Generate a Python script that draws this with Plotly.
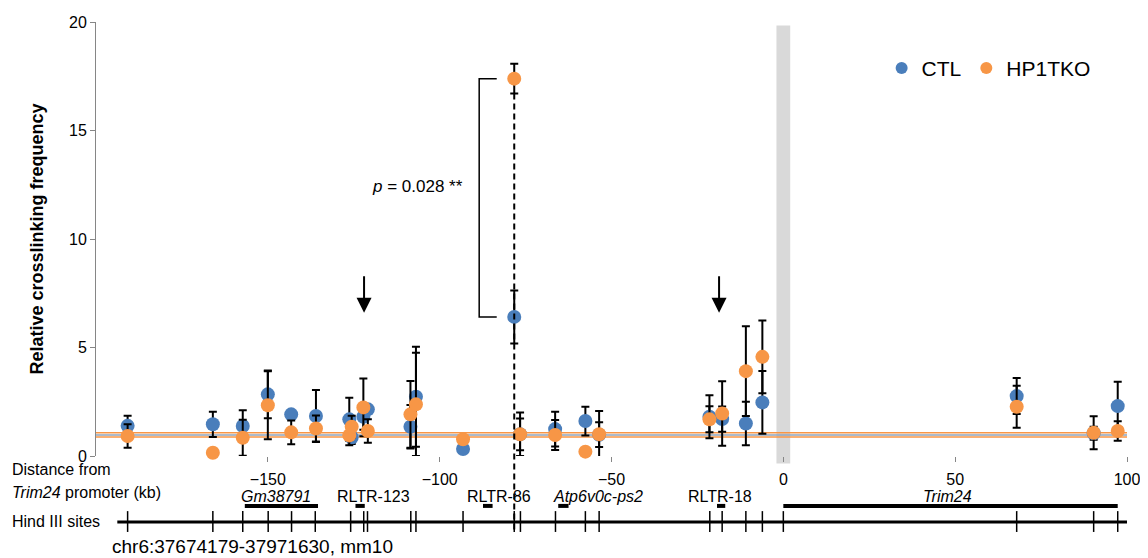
# import required libraries
import plotly.graph_objects as go

# fragment positions, distance from Trim24 promoter (kb)
pos_kb = [-190.8, -166.0, -157.3, -150.0, -143.2, -136.0, -126.3, -125.6, -122.2, -120.9,
          -108.5, -106.9, -93.2, -78.3, -76.6, -66.4, -57.6, -53.6, -21.5, -17.8,
          -10.9, -6.1, 67.9, 90.3, 97.3]

# relative crosslinking frequency, CTL
ctl = [1.39, 1.46, 1.38, 2.84, 1.92, 1.84, 1.69, 0.85, 1.81, 2.15,
       1.35, 2.73, 0.32, 6.41, 1.00, 1.24, 1.61, 0.98, 1.81, 1.70,
       1.50, 2.47, 2.76, 1.05, 2.30]
ctl_err = [0.46, 0.58, 0.73, 1.10, 0.10, 1.20, 0.99, 0.30, 0.60, 0.20,
           1.00, 2.30, 0.00, 1.22, 0.73, 0.80, 0.66, 0.57, 0.99, 0.58,
           1.00, 1.45, 0.83, 0.30, 1.12]

# relative crosslinking frequency, HP1TKO
ko = [0.92, 0.15, 0.84, 2.34, 1.09, 1.27, 0.95, 1.35, 2.24, 1.15,
      1.92, 2.38, 0.77, 17.39, 1.00, 0.97, 0.20, 1.00, 1.69, 1.96,
      3.91, 4.57, 2.27, 1.07, 1.15]
ko_err = [0.54, 0.00, 0.83, 1.57, 0.55, 0.60, 0.45, 0.50, 1.33, 0.54,
          1.54, 2.38, 0.00, 0.69, 1.00, 0.69, 0.00, 1.07, 0.60, 1.49,
          2.07, 1.68, 0.97, 0.76, 0.45]

# background levels
ctl_base = [0.97]
ko_base = [1.07, 0.88]

# Hind III sites (kb)
hind3 = [-190.8, -166.0, -157.3, -149.9, -143.1, -136.2, -125.9, -122.1, -121.0,
         -108.4, -106.9, -93.2, -78.3, -76.5, -66.3, -57.6, -53.6, -21.4, -17.8,
         -10.9, -6.1, 0.0, 67.9, 90.3, 97.3]

# genes / repeats under the axis
gene_names = ["Gm38791", "RLTR-123", "RLTR-86", "Atp6v0c-ps2", "RLTR-18", "Trim24"]
gene_start = [-156.7, -124.5, -87.4, -65.5, -19.3, 0.0]
gene_end = [-135.4, -121.8, -84.6, -62.5, -16.9, 97.3]
gene_label = [-147.7, -119.2, -82.8, -54.0, -18.5, 47.7]
gene_italic = [True, False, False, True, False, True]

# viewpoint and arrows
viewpoint = [-2, 2]
arrows_kb = [-122.0, -18.7]
x_range = [-200, 100]
y_range = [0, 20]
x_ticks = [-150, -100, -50, 0, 50, 100]
y_ticks = [0, 5, 10, 15, 20]

BLUE = '#4a7ebb'
ORANGE = '#f79646'
FONT = 'Arial, Liberation Sans, sans-serif'


def paper_y(val):
    return (val - y_range[0]) / (y_range[1] - y_range[0])


fig = go.Figure()

# background lines
for b in ko_base:
    fig.add_trace(go.Scatter(x=x_range, y=[b, b], mode='lines', showlegend=False,
                             line=dict(color=ORANGE, width=1.5), hoverinfo='skip'))
for b in ctl_base:
    fig.add_trace(go.Scatter(x=x_range, y=[b, b], mode='lines', showlegend=False,
                             line=dict(color='#8ea3bb', width=1.5), hoverinfo='skip'))

# data points
fig.add_trace(go.Scatter(
    x=pos_kb, y=ctl, mode='markers', name='CTL', cliponaxis=False,
    marker=dict(color=BLUE, size=14),
    error_y=dict(type='data', array=ctl_err, color='black', thickness=2, width=4)
))
fig.add_trace(go.Scatter(
    x=pos_kb, y=ko, mode='markers', name='HP1TKO', cliponaxis=False,
    marker=dict(color=ORANGE, size=14),
    error_y=dict(type='data', array=ko_err, color='black', thickness=2, width=4)
))

shapes = []

# grey band at the viewpoint
shapes.append(dict(type='rect', xref='x', yref='paper', x0=viewpoint[0], x1=viewpoint[1],
                   y0=-0.017, y1=0.992, fillcolor='#d9d9d9', line=dict(width=0), layer='below'))

# dashed line through the peak
i_peak = ko.index(max(ko))
shapes.append(dict(type='line', xref='x', yref='paper', x0=pos_kb[i_peak], x1=pos_kb[i_peak],
                   y0=paper_y(ko[i_peak] - ko_err[i_peak]), y1=-0.174,
                   line=dict(color='black', width=2, dash='6px,4px')))

# bracket for p value
bx = pos_kb[i_peak] - 10.2
shapes.append(dict(type='path', xref='x', yref='y',
                   path='M {0},{1} L {2},{1} L {2},{3} L {0},{3}'.format(
                       pos_kb[i_peak] - 5.1, ko[i_peak], bx, ctl[i_peak]),
                   line=dict(color='black', width=1.5)))

# Hind III line and sites
shapes.append(dict(type='line', xref='x', yref='paper', x0=-193.8, x1=x_range[1],
                   y0=-0.152, y1=-0.152, line=dict(color='black', width=3)))
for s in hind3:
    shapes.append(dict(type='line', xref='x', yref='paper', x0=s, x1=s,
                       y0=-0.127, y1=-0.175, line=dict(color='black', width=1.5)))

# gene bars
for g0, g1 in zip(gene_start, gene_end):
    shapes.append(dict(type='line', xref='x', yref='paper', x0=g0, x1=g1,
                       y0=-0.115, y1=-0.115, line=dict(color='black', width=4)))

annotations = []

# p value
annotations.append(dict(x=bx - 4, y=12.4, xref='x', yref='y', xanchor='right', yanchor='middle',
                        showarrow=False, text='<i>p</i> = 0.028 **',
                        font=dict(size=17, color='black', family=FONT)))

# arrows
for a in arrows_kb:
    annotations.append(dict(x=a, y=6.6, ax=a, ay=8.35, xref='x', yref='y', axref='x', ayref='y',
                            text='', showarrow=True, arrowhead=2, arrowsize=1.5,
                            arrowwidth=2, arrowcolor='black'))

# gene labels
for name, gx, it in zip(gene_names, gene_label, gene_italic):
    annotations.append(dict(x=gx, y=-0.094, xref='x', yref='paper', yanchor='middle', showarrow=False,
                            text='<i>' + name + '</i>' if it else name,
                            font=dict(size=16, color='black', family=FONT)))

# labels on the left
left_labels = ['Distance from', '<i>Trim24</i> promoter (kb)', 'Hind III sites']
left_y = [-0.032, -0.083, -0.152]
for txt, ly in zip(left_labels, left_y):
    annotations.append(dict(x=-0.083, y=ly, xref='paper', yref='paper', xanchor='left', yanchor='middle',
                            showarrow=False, text=txt, font=dict(size=16, color='black', family=FONT)))
annotations.append(dict(x=0.014, y=-0.209, xref='paper', yref='paper', xanchor='left', yanchor='middle',
                        showarrow=False, text='chr6:37674179-37971630, mm10',
                        font=dict(size=19, color='black', family=FONT)))

# the page puts the figure 8px in from the top-left corner
fig.update_layout(
    width=1140, height=550,
    margin=dict(l=88, r=21, t=14, b=102),
    plot_bgcolor='white', paper_bgcolor='white',
    font=dict(family=FONT, size=16, color='black'),
    shapes=shapes, annotations=annotations,
    legend=dict(orientation='h', x=0.762, y=0.893, xanchor='left', yanchor='middle',
                font=dict(size=21), itemsizing='constant', bgcolor='rgba(0,0,0,0)'),
    xaxis=dict(range=x_range, tickvals=x_ticks, showline=False, showgrid=False, zeroline=False,
               automargin=False, ticks='outside', ticklen=5, tickcolor='#868686',
               ticklabelstandoff=4, tickfont=dict(size=16)),
    yaxis=dict(range=y_range, tickvals=y_ticks, showline=True, linecolor='#868686', linewidth=1,
               showgrid=False, zeroline=False, automargin=False, ticks='outside', ticklen=5,
               tickcolor='#868686', tickfont=dict(size=16),
               title=dict(text='<b>Relative crosslinking frequency</b>', font=dict(size=18), standoff=20)),
)

fig.write_html("out.html")
